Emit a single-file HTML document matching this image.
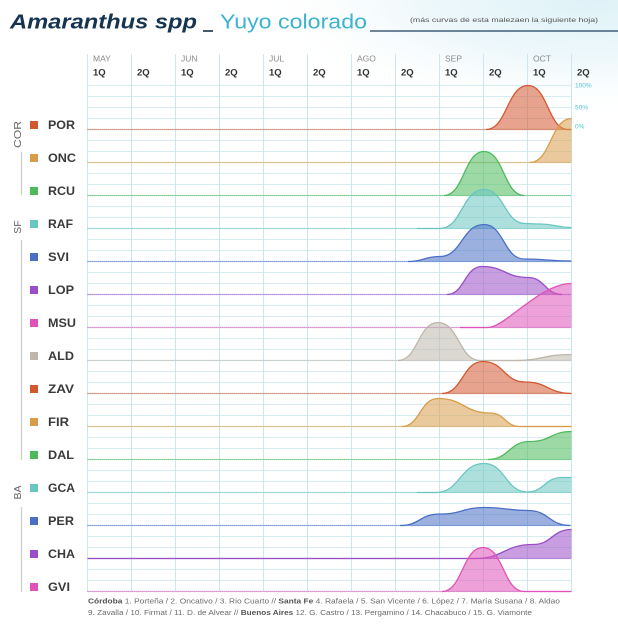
<!DOCTYPE html>
<html><head><meta charset="utf-8"><style>
html,body{margin:0;padding:0;background:#fff;}
svg{display:block;}
text{font-family:"Liberation Sans",sans-serif;}
</style></head><body>
<svg width="618" height="640" viewBox="0 0 618 640" xmlns="http://www.w3.org/2000/svg">
<defs>
<radialGradient id="bg" cx="0.5" cy="0.5" r="0.5">
<stop offset="0" stop-color="#dff2f8"/>
<stop offset="0.5" stop-color="#eef8fb"/>
<stop offset="1" stop-color="#ffffff" stop-opacity="0"/>
</radialGradient>
</defs>
<rect width="618" height="640" fill="#fff"/>
<ellipse cx="590" cy="0" rx="340" ry="120" fill="url(#bg)"/>

<!-- Title -->
<text x="10" y="28.5" font-size="20" font-weight="bold" font-style="italic" fill="#16344f" textLength="187" lengthAdjust="spacingAndGlyphs">Amaranthus spp</text>
<line x1="203" y1="31" x2="213" y2="31" stroke="#16344f" stroke-width="1.6"/>
<text x="220" y="28.5" font-size="20" fill="#3db3cf" textLength="147" lengthAdjust="spacingAndGlyphs">Yuyo colorado</text>
<line x1="370" y1="31" x2="618" y2="31" stroke="#1d3f5e" stroke-width="1.3"/>
<text x="410" y="22" font-size="6" fill="#555" textLength="188" lengthAdjust="spacingAndGlyphs">(más curvas de esta malezaen la siguiente hoja)</text>

<!-- Grid -->
<path fill="none" stroke="#d6edf4" stroke-width="1" d="M87.5,85.5H571.5M87.5,96.5H571.5M87.5,107.5H571.5M87.5,118.5H571.5M87.5,129.5H571.5M87.5,140.5H571.5M87.5,151.5H571.5M87.5,162.5H571.5M87.5,173.5H571.5M87.5,184.5H571.5M87.5,195.5H571.5M87.5,206.5H571.5M87.5,217.5H571.5M87.5,228.5H571.5M87.5,239.5H571.5M87.5,250.5H571.5M87.5,261.5H571.5M87.5,272.5H571.5M87.5,283.5H571.5M87.5,294.5H571.5M87.5,305.5H571.5M87.5,316.5H571.5M87.5,327.5H571.5M87.5,338.5H571.5M87.5,349.5H571.5M87.5,360.5H571.5M87.5,371.5H571.5M87.5,382.5H571.5M87.5,393.5H571.5M87.5,404.5H571.5M87.5,415.5H571.5M87.5,426.5H571.5M87.5,437.5H571.5M87.5,448.5H571.5M87.5,459.5H571.5M87.5,470.5H571.5M87.5,481.5H571.5M87.5,492.5H571.5M87.5,503.5H571.5M87.5,514.5H571.5M87.5,525.5H571.5M87.5,536.5H571.5M87.5,547.5H571.5M87.5,558.5H571.5M87.5,569.5H571.5M87.5,580.5H571.5M87.5,591.5H571.5"/>
<path fill="none" stroke="#cbe7f0" stroke-width="1" d="M87.5,54V592M131.5,54V592M175.5,54V592M219.5,54V592M263.5,54V592M307.5,54V592M351.5,54V592M395.5,54V592M439.5,54V592M483.5,54V592M527.5,54V592M571.5,54V592"/>

<!-- Month / quincena labels -->
<g font-size="8.5" fill="#8a8a8a">
<text x="93" y="61.3">MAY</text>
<text x="181" y="61.3">JUN</text>
<text x="269" y="61.3">JUL</text>
<text x="357" y="61.3">AGO</text>
<text x="445" y="61.3">SEP</text>
<text x="533" y="61.3">OCT</text>
</g>
<g font-size="9.5" font-weight="bold" fill="#333">
<text x="93" y="75.5">1Q</text>
<text x="137" y="75.5">2Q</text>
<text x="181" y="75.5">1Q</text>
<text x="225" y="75.5">2Q</text>
<text x="269" y="75.5">1Q</text>
<text x="313" y="75.5">2Q</text>
<text x="357" y="75.5">1Q</text>
<text x="401" y="75.5">2Q</text>
<text x="445" y="75.5">1Q</text>
<text x="489" y="75.5">2Q</text>
<text x="533" y="75.5">1Q</text>
<text x="577" y="75.5">2Q</text>
</g>
<g font-size="6.5" fill="#55c2dc">
<text x="575" y="87.5">100%</text>
<text x="575" y="109.5">50%</text>
<text x="575" y="128.5">0%</text>
</g>

<!-- Baselines -->
<g fill="none" stroke-width="1.3" stroke-dasharray="1.2 0.8" opacity="0.85">
<path d="M87.5,129.5H571.5" stroke="#d4582f"/>
<path d="M87.5,162.5H571.5" stroke="#d99c4a"/>
<path d="M87.5,195.5H571.5" stroke="#4cba5b"/>
<path d="M87.5,228.5H571.5" stroke="#6ac6c1"/>
<path d="M87.5,261.5H571.5" stroke="#4a70c6"/>
<path d="M87.5,294.5H571.5" stroke="#9a4fc6"/>
<path d="M87.5,327.5H571.5" stroke="#e052b8"/>
<path d="M87.5,360.5H571.5" stroke="#bdb7ac"/>
<path d="M87.5,393.5H571.5" stroke="#d4582f"/>
<path d="M87.5,426.5H571.5" stroke="#d99c4a"/>
<path d="M87.5,459.5H571.5" stroke="#4cba5b"/>
<path d="M87.5,492.5H571.5" stroke="#6ac6c1"/>
<path d="M87.5,525.5H571.5" stroke="#4a70c6"/>
<path d="M87.5,558.5H571.5" stroke="#9a4fc6"/>
<path d="M87.5,591.5H571.5" stroke="#e052b8"/>
</g>

<!-- Series -->
<g stroke-width="1.3" fill-opacity="0.55">
<path d="M486,129.5 C507,129.5 507,85.5 528,85.5 C548,85.5 548,129.5 568,129.5 Z" fill="#d4582f" stroke="none"/>
<path d="M486,129.5 C507,129.5 507,85.5 528,85.5 C548,85.5 548,129.5 568,129.5 L571.5,129.5" fill="none" stroke="#d4582f"/>
<path d="M530,162.5 C550.75,162.5 550.75,118.5 571.5,118.5 L571.5,162.5 Z" fill="#d99c4a" stroke="none"/>
<path d="M530,162.5 C550.75,162.5 550.75,118.5 571.5,118.5" fill="none" stroke="#d99c4a"/>
<path d="M444,195.5 C464,195.5 464,151.5 484,151.5 C504,151.5 504,195.5 524,195.5 Z" fill="#4cba5b" stroke="none"/>
<path d="M444,195.5 C464,195.5 464,151.5 484,151.5 C504,151.5 504,195.5 524,195.5" fill="none" stroke="#4cba5b"/>
<path d="M440,228.5 C462,228.5 462,189.5 484,189.5 C504.5,189.5 504.5,223.5 525,223.5 C532.5,223.5 532.5,224 540,224 C555.75,224 555.75,227.5 571.5,227.5 L571.5,228.5 Z" fill="#6ac6c1" stroke="none"/>
<path d="M417,228.5 L440,228.5 C462,228.5 462,189.5 484,189.5 C504.5,189.5 504.5,223.5 525,223.5 C532.5,223.5 532.5,224 540,224 C555.75,224 555.75,227.5 571.5,227.5" fill="none" stroke="#6ac6c1"/>
<path d="M408,261.5 C424,261.5 424,256.5 440,256.5 C462,256.5 462,224.5 484,224.5 C504,224.5 504,259 524,259 C547.75,259 547.75,261 571.5,261 L571.5,261.5 Z" fill="#4a70c6" stroke="none"/>
<path d="M408,261.5 C424,261.5 424,256.5 440,256.5 C462,256.5 462,224.5 484,224.5 C504,224.5 504,259 524,259 C547.75,259 547.75,261 571.5,261" fill="none" stroke="#4a70c6"/>
<path d="M447,294.5 C464.5,294.5 464.5,266.5 482,266.5 C505,266.5 505,277.5 528,277.5 C545,277.5 545,294.5 562,294.5 Z" fill="#9a4fc6" stroke="none"/>
<path d="M447,294.5 C464.5,294.5 464.5,266.5 482,266.5 C505,266.5 505,277.5 528,277.5 C545,277.5 545,294.5 562,294.5" fill="none" stroke="#9a4fc6"/>
<path d="M488,327.5 C505,327.5 540,283.5 571.5,283.5 L571.5,327.5 Z" fill="#e052b8" stroke="none"/>
<path d="M460,327.5 L488,327.5 C505,327.5 540,283.5 571.5,283.5" fill="none" stroke="#e052b8"/>
<path d="M398,360.5 C418,360.5 418,322.5 438,322.5 C459,322.5 459,360.5 480,360.5 L515,360.5 C543,360.5 543,354.5 571.5,354.5 L571.5,360.5 Z" fill="#bdb7ac" stroke="none"/>
<path d="M398,360.5 C418,360.5 418,322.5 438,322.5 C459,322.5 459,360.5 480,360.5 L515,360.5 C543,360.5 543,354.5 571.5,354.5" fill="none" stroke="#bdb7ac"/>
<path d="M442,393.5 C462.5,393.5 462.5,361.5 483,361.5 C504,361.5 504,382 525,382 C548,382 548,393.5 571.5,393.5 Z" fill="#d4582f" stroke="none"/>
<path d="M442,393.5 C462.5,393.5 462.5,361.5 483,361.5 C504,361.5 504,382 525,382 C548,382 548,393.5 571.5,393.5" fill="none" stroke="#d4582f"/>
<path d="M402,426.5 C420,426.5 420,398.5 438,398.5 C464,398.5 464,413 490,413 C505,413 505,426.5 520,426.5 Z" fill="#d99c4a" stroke="none"/>
<path d="M402,426.5 C420,426.5 420,398.5 438,398.5 C464,398.5 464,413 490,413 C505,413 505,426.5 520,426.5 L571.5,426.5" fill="none" stroke="#d99c4a"/>
<path d="M488,459.5 C509,459.5 509,441.5 530,441.5 C550.75,441.5 550.75,431.5 571.5,431.5 L571.5,459.5 Z" fill="#4cba5b" stroke="none"/>
<path d="M488,459.5 C509,459.5 509,441.5 530,441.5 C550.75,441.5 550.75,431.5 571.5,431.5" fill="none" stroke="#4cba5b"/>
<path d="M436,492.5 C460,492.5 460,463.5 484,463.5 C505.5,463.5 505.5,492 527,492 C544.5,492 544.5,477.5 562,477.5 L571.5,477.5 L571.5,492.5 Z" fill="#6ac6c1" stroke="none"/>
<path d="M417,492.5 L436,492.5 C460,492.5 460,463.5 484,463.5 C505.5,463.5 505.5,492 527,492 C544.5,492 544.5,477.5 562,477.5 L571.5,477.5" fill="none" stroke="#6ac6c1"/>
<path d="M400,525.5 C420,525.5 420,514 440,514 C462.5,514 462.5,507.5 485,507.5 C506.5,507.5 506.5,510.5 528,510.5 C549,510.5 549,525.5 570,525.5 Z" fill="#4a70c6" stroke="none"/>
<path d="M400,525.5 C420,525.5 420,514 440,514 C462.5,514 462.5,507.5 485,507.5 C506.5,507.5 506.5,510.5 528,510.5 C549,510.5 549,525.5 570,525.5" fill="none" stroke="#4a70c6"/>
<path d="M475,558.5 C504,558.5 504,544.5 533,544.5 C552,544.5 552,529.5 571.5,529.5 L571.5,558.5 Z" fill="#9a4fc6" stroke="none"/>
<path d="M87.5,558.5 L475,558.5 C504,558.5 504,544.5 533,544.5 C552,544.5 552,529.5 571.5,529.5" fill="none" stroke="#9a4fc6"/>
<path d="M442,591.5 C462.5,591.5 462.5,547.5 483,547.5 C503.5,547.5 503.5,591.5 524,591.5 Z" fill="#e052b8" stroke="none"/>
<path d="M442,591.5 C462.5,591.5 462.5,547.5 483,547.5 C503.5,547.5 503.5,591.5 524,591.5 L571.5,591.5" fill="none" stroke="#e052b8"/>
</g>

<!-- Group labels -->
<g font-size="10.5" fill="#666">
<text transform="translate(20.8,134.5) rotate(-90)" text-anchor="middle" textLength="27" lengthAdjust="spacingAndGlyphs">COR</text>
<text transform="translate(20.8,227) rotate(-90)" text-anchor="middle">SF</text>
<text transform="translate(20.8,492.5) rotate(-90)" text-anchor="middle">BA</text>
</g>
<g stroke="#cfcfcf" stroke-width="1.3">
<line x1="21.5" y1="152" x2="21.5" y2="195"/>
<line x1="21.5" y1="240" x2="21.5" y2="460"/>
<line x1="21.5" y1="507" x2="21.5" y2="592"/>
</g>

<!-- Row squares -->
<rect x="30" y="121" width="8" height="8" fill="#d4582f"/>
<rect x="30" y="154" width="8" height="8" fill="#d99c4a"/>
<rect x="30" y="187" width="8" height="8" fill="#4cba5b"/>
<rect x="30" y="220" width="8" height="8" fill="#6ac6c1"/>
<rect x="30" y="253" width="8" height="8" fill="#4a70c6"/>
<rect x="30" y="286" width="8" height="8" fill="#9a4fc6"/>
<rect x="30" y="319" width="8" height="8" fill="#e052b8"/>
<rect x="30" y="352" width="8" height="8" fill="#bdb7ac"/>
<rect x="30" y="385" width="8" height="8" fill="#d4582f"/>
<rect x="30" y="418" width="8" height="8" fill="#d99c4a"/>
<rect x="30" y="451" width="8" height="8" fill="#4cba5b"/>
<rect x="30" y="484" width="8" height="8" fill="#6ac6c1"/>
<rect x="30" y="517" width="8" height="8" fill="#4a70c6"/>
<rect x="30" y="550" width="8" height="8" fill="#9a4fc6"/>
<rect x="30" y="583" width="8" height="8" fill="#e052b8"/>

<!-- Row labels -->
<g font-size="11.5" font-weight="bold" fill="#3a3a3a">
<text x="48" y="129" textLength="27" lengthAdjust="spacingAndGlyphs">POR</text>
<text x="48" y="162" textLength="28" lengthAdjust="spacingAndGlyphs">ONC</text>
<text x="48" y="195" textLength="27" lengthAdjust="spacingAndGlyphs">RCU</text>
<text x="48" y="228" textLength="25" lengthAdjust="spacingAndGlyphs">RAF</text>
<text x="48" y="261" textLength="21" lengthAdjust="spacingAndGlyphs">SVI</text>
<text x="48" y="294" textLength="26" lengthAdjust="spacingAndGlyphs">LOP</text>
<text x="48" y="327" textLength="28" lengthAdjust="spacingAndGlyphs">MSU</text>
<text x="48" y="360" textLength="26" lengthAdjust="spacingAndGlyphs">ALD</text>
<text x="48" y="393" textLength="26" lengthAdjust="spacingAndGlyphs">ZAV</text>
<text x="48" y="426" textLength="21" lengthAdjust="spacingAndGlyphs">FIR</text>
<text x="48" y="459" textLength="26" lengthAdjust="spacingAndGlyphs">DAL</text>
<text x="48" y="492" textLength="27" lengthAdjust="spacingAndGlyphs">GCA</text>
<text x="48" y="525" textLength="26" lengthAdjust="spacingAndGlyphs">PER</text>
<text x="48" y="558" textLength="27" lengthAdjust="spacingAndGlyphs">CHA</text>
<text x="48" y="591" textLength="22" lengthAdjust="spacingAndGlyphs">GVI</text>
</g>

<!-- Footnote -->
<g font-size="7" fill="#6b6b6b">
<text x="88" y="603.5" textLength="472" lengthAdjust="spacingAndGlyphs"><tspan font-weight="bold" fill="#555">Córdoba</tspan> 1. Porteña / 2. Oncativo / 3. Rio Cuarto  //  <tspan font-weight="bold" fill="#555">Santa Fe</tspan> 4. Rafaela / 5. San Vicente / 6. López / 7. María Susana / 8. Aldao</text>
<text x="88" y="615" textLength="444" lengthAdjust="spacingAndGlyphs">9. Zavalla / 10. Firmat / 11. D. de Alvear  //  <tspan font-weight="bold" fill="#555">Buenos Aires</tspan> 12. G. Castro / 13. Pergamino / 14. Chacabuco / 15. G. Viamonte</text>
</g>
</svg>
</body></html>
